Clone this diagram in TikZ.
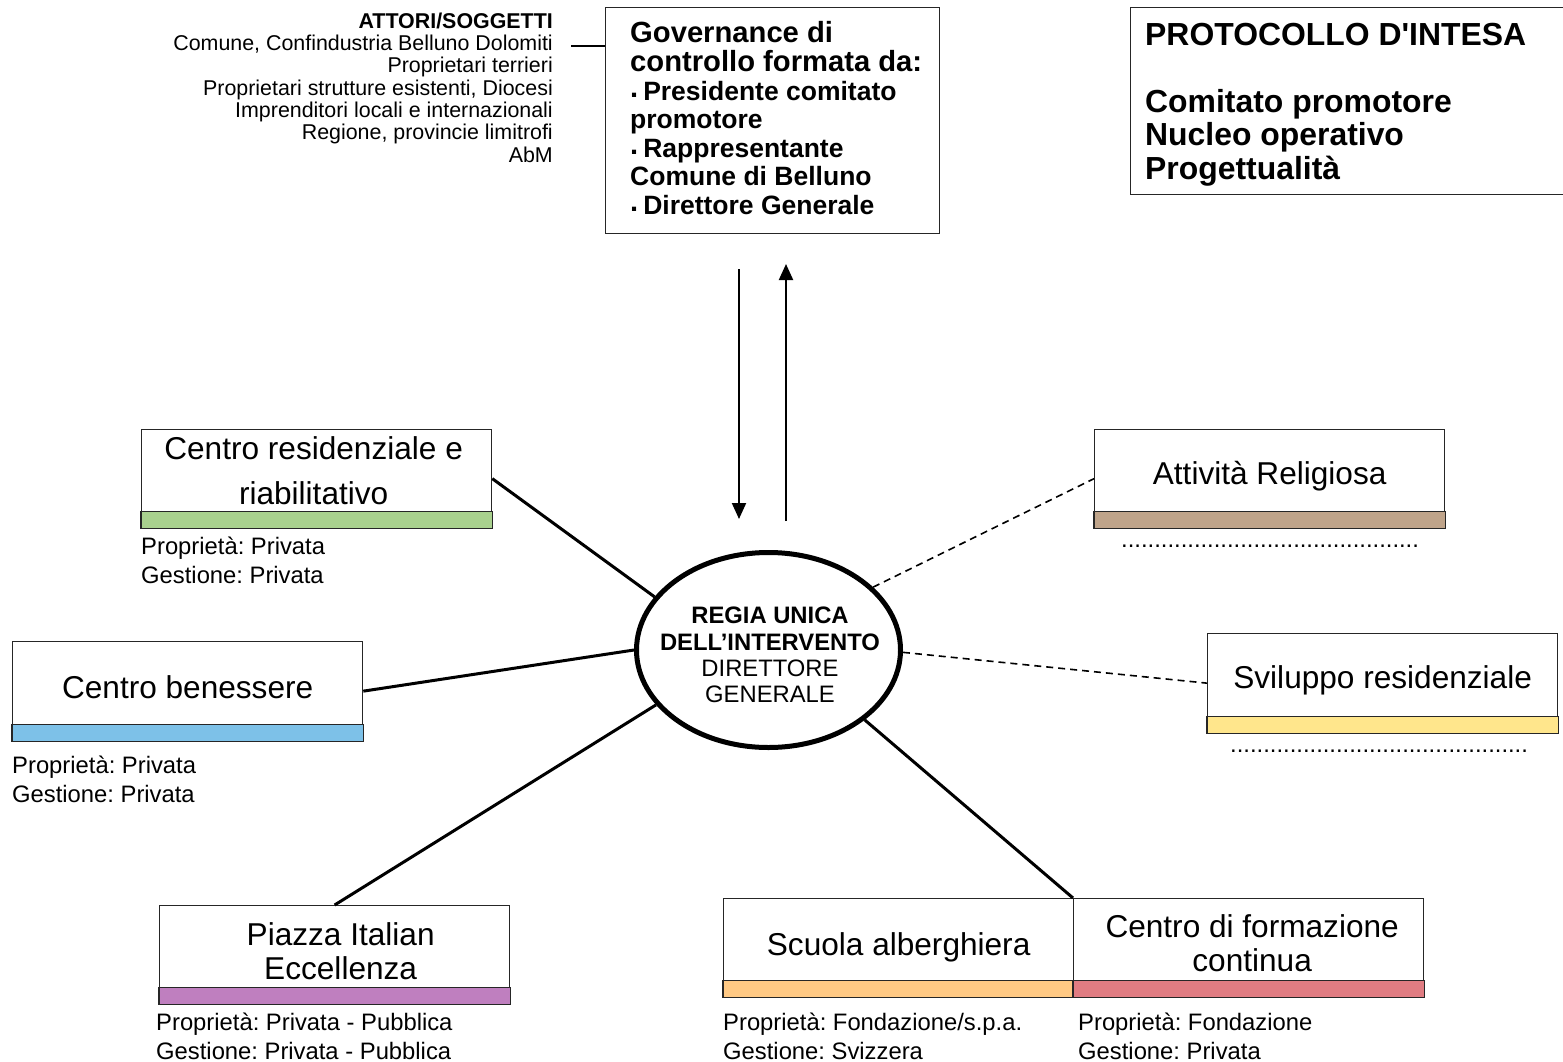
\documentclass[tikz,border=0pt]{standalone}
\usepackage{fontspec}
\setmainfont{Liberation Sans}
\newfontfamily\plainsans{Liberation Sans}
\usetikzlibrary{arrows.meta,shapes.geometric}
\definecolor{cgreen}{HTML}{A9D18E}
\definecolor{cblue}{HTML}{7DC1E8}
\definecolor{cpurple}{HTML}{BF7FBF}
\definecolor{corange}{HTML}{FFC984}
\definecolor{cpink}{HTML}{E07C82}
\definecolor{ctan}{HTML}{BFA48A}
\definecolor{cyellow}{HTML}{FFE68C}
\newcommand\gbul{\raisebox{2.5pt}{\fontsize{29}{29}\selectfont.}\kern5pt}
\tikzset{
  ubox/.style={draw=black!85, line width=1.3pt, minimum width=350pt, minimum height=98pt, inner sep=0pt, anchor=north west},
  bar/.style={draw=black!85, line width=1.3pt},
  btext/.style={font=\fontsize{31.6}{34}\selectfont, align=center, inner sep=0pt, text depth=0pt},
  lab/.style={font=\fontsize{23.8}{29}\selectfont, align=left, inner sep=0pt, anchor=north west},
  dots/.style={font=\fontsize{23.8}{29}\selectfont, inner sep=0pt, anchor=base},
  solidcon/.style={line width=3pt},
  dashcon/.style={line width=1.6pt, dash pattern=on 7pt off 5pt},
  flow/.style={line width=2pt, -{Triangle[width=14pt,length=16pt]}},
}
\begin{document}
\frenchspacing
\begin{tikzpicture}[x=1pt,y=-1pt]
\path[use as bounding box, fill=white] (0,0) rectangle (1563,1062);

% top-left actors text
\node[font=\fontsize{21.4}{22.3}\selectfont, align=right, inner sep=0pt, anchor=north east] (attori) at (553,12.5)
 {{\bfseries ATTORI/SOGGETTI}\\Comune, Confindustria Belluno Dolomiti\\Proprietari terrieri\\Proprietari strutture esistenti, Diocesi\\Imprenditori locali e internazionali\\Regione, provincie limitrofi\\AbM};

% governance box
\node[draw=black!85, line width=1.3pt, minimum width=334pt, minimum height=226pt, inner sep=0pt, anchor=north west] (gov) at (605,7) {};
\node[font=\bfseries\fontsize{29.2}{28.5}\selectfont, align=left, inner sep=0pt, anchor=north west] (govhead) at (630,21.5)
 {Governance di\\controllo formata da:};
\node[font=\bfseries\fontsize{26.5}{28.5}\selectfont, align=left, inner sep=0pt, anchor=north west] (govlist) at (630,80.6)
 {\gbul Presidente comitato\\promotore\\\gbul Rappresentante\\Comune di Belluno\\\gbul Direttore Generale};
\coordinate (ac) at (571,46);
\draw[line width=1.3pt] (ac) -- (ac -| gov.west);

% protocollo box
\node[draw=black!85, line width=1.3pt, minimum width=460pt, minimum height=187pt, inner sep=0pt, anchor=north west] (prot) at (1130,7) {};
\node[font=\plainsans\bfseries\fontsize{31.9}{33.5}\selectfont, align=left, inner sep=0pt, anchor=north west] (prottext) at (1145,23)
 {PROTOCOLLO D'INTESA\\[33.5pt]Comitato promotore\\Nucleo operativo\\Progettualità};

% central ellipse
\node[ellipse, draw, line width=5pt, minimum width=264pt, minimum height=195pt, inner sep=0pt] (E) at (768.5,650) {};
\node[font=\fontsize{23.8}{26.3}\selectfont, align=center, inner sep=0pt, text depth=0pt] (Etext) at (770,655)
 {{\bfseries REGIA UNICA}\\{\bfseries DELL’INTERVENTO}\\DIRETTORE\\GENERALE};

% flow arrows
\coordinate (d1) at (739,269);
\coordinate (d2) at (739,519);
\coordinate (u1) at (786,521);
\coordinate (u2) at (786,264);
\draw[flow] (d1) -- (d2);
\draw[flow] (u1) -- (u2);

% boxes
\node[ubox] (b1) at (141,429) {};
\draw[bar, fill=cgreen] (b1.south west) rectangle ([yshift=17pt]b1.south east);
\node[btext, font=\fontsize{31.6}{45}\selectfont] (t1) at ([yshift=8.5pt,xshift=-3pt]b1.center) {Centro residenziale e\\riabilitativo};
\node[lab] (l1) at (141,536.5) {Proprietà: Privata\\Gestione: Privata};

\node[ubox, minimum height=99pt] (b2) at (12,641) {};
\draw[bar, fill=cblue] (b2.south west) rectangle ([yshift=17pt]b2.south east);
\node[btext] (t2) at ([yshift=4.5pt]b2.center) {Centro benessere};
\node[lab] (l2) at (12,755.4) {Proprietà: Privata\\Gestione: Privata};

\node[ubox] (b3) at (159,905) {};
\draw[bar, fill=cpurple] (b3.south west) rectangle ([yshift=17pt]b3.south east);
\node[btext] (t3) at ([yshift=4pt,xshift=6pt]b3.center) {Piazza Italian\\Eccellenza};
\node[lab] (l3) at (156,1012.4) {Proprietà: Privata - Pubblica\\Gestione: Privata - Pubblica};

\node[ubox] (b4) at (723,898) {};
\draw[bar, fill=corange] (b4.south west) rectangle ([yshift=17pt]b4.south east);
\node[btext] (t4) at ([yshift=4pt]b4.center) {Scuola alberghiera};
\node[lab] (l4) at (723,1012.4) {Proprietà: Fondazione/s.p.a.\\Gestione: Svizzera};

\node[ubox] (b5) at (1073,898) {};
\draw[bar, fill=cpink] (b5.south west) rectangle ([yshift=17pt]b5.south east);
\node[btext] (t5) at ([yshift=5pt,xshift=3.5pt]b5.center) {Centro di formazione\\continua};
\node[lab] (l5) at (1078,1012.4) {Proprietà: Fondazione\\Gestione: Privata};

\node[ubox] (b6) at (1094,429) {};
\draw[bar, fill=ctan] (b6.south west) rectangle ([yshift=17pt]b6.south east);
\node[btext] (t6) at ([yshift=6pt]b6.center) {Attività Religiosa};
\node[dots] (dt6) at (1270,547) {.............................................};

\node[ubox, minimum height=99pt] (b7) at (1207,633) {};
\draw[bar, fill=cyellow] (b7.south west) rectangle ([yshift=17pt]b7.south east);
\node[btext] (t7) at ([yshift=6.5pt]b7.center) {Sviluppo residenziale};
\node[dots] (dt7) at (1379,752) {.............................................};

% connectors
\draw[solidcon] (b1.east) -- (E.155);
\draw[solidcon] (b2.east) -- (E.180);
\draw[solidcon] (b3.north) -- (E.206.6);
\draw[solidcon] (E.-36) -- (b5.north west);
\draw[dashcon] (E.31) -- (b6.west);
\draw[dashcon] (E.-1) -- (b7.west);
\end{tikzpicture}
\end{document}
